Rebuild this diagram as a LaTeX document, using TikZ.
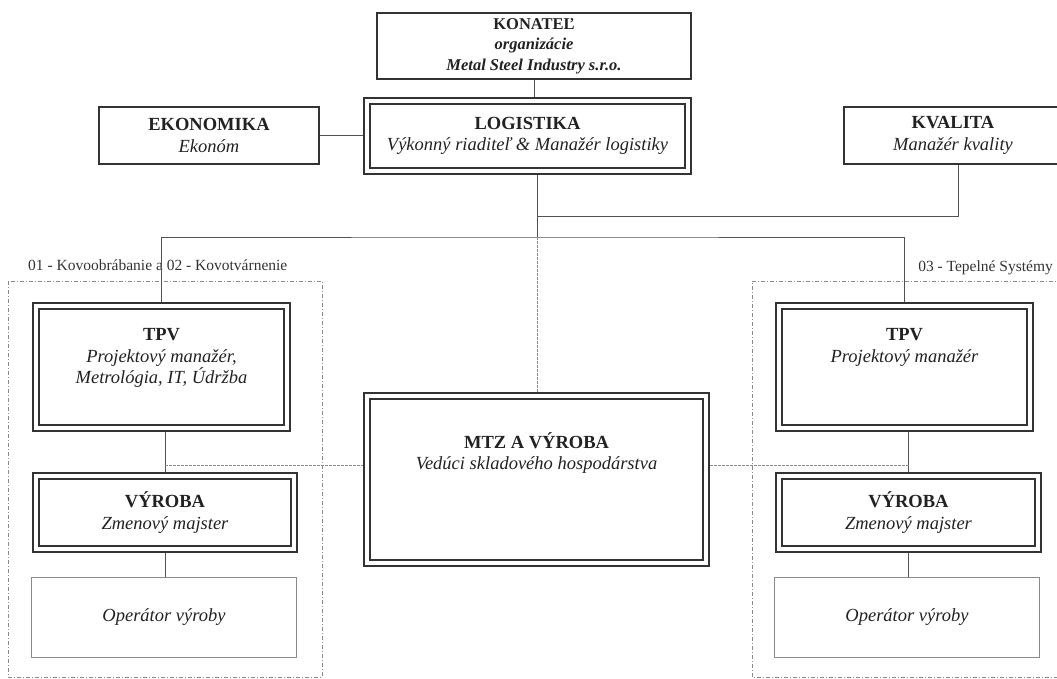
\documentclass[tikz,border=0pt]{standalone}
\usepackage{fontspec}
\setmainfont{Liberation Serif}
\definecolor{ln}{HTML}{333333}
\definecolor{tx}{HTML}{222222}
\definecolor{fr}{HTML}{8A8A8A}
\begin{document}
\begin{tikzpicture}[x=1pt,y=-1pt,
  every node/.style={inner sep=0pt, align=center, text=tx},
  bodyfont/.style={font=\fontsize{18.5}{21.5}\selectfont},
  sbox/.style={draw=ln, line width=2pt, fill=white, bodyfont},
  dbox/.style={draw=ln, line width=1.8pt, double=white, double distance=4.5pt, fill=white, outer sep=4.05pt, bodyfont},
  obox/.style={draw=fr, line width=1.2pt, fill=white, bodyfont},
  conn/.style={draw=ln!85, line width=0.9pt},
  dconn/.style={draw=fr, line width=0.8pt, dash pattern=on 2.5pt off 1.5pt},
  grp/.style={draw=fr, line width=0.8pt, dash pattern=on 4pt off 2pt on 1pt off 2pt},
  grplabel/.style={font=\fontsize{15.5}{18}\selectfont, text=ln}]
\useasboundingbox (0,0) rectangle (1057,679);

% group frames
\draw[grp] (8,281) rectangle (322,677);
\draw[grp] (1062,281) -- (752,281) -- (752,677) -- (1062,677);
\node[grplabel, anchor=base west] (g1) at (28,270) {01 - Kovoobrábanie a 02 - Kovotvárnenie};
\node[grplabel, anchor=base east] (g2) at (1053,271) {03 - Tepelné Systémy};

% top level
\node[sbox, minimum width=314, minimum height=66, font=\fontsize{16.5}{20.5}\selectfont\bfseries] (kon) at (534,46)
  {KONATEĽ\\ \textit{organizácie}\\ \textit{Metal Steel Industry s.r.o.}};
\node[dbox, minimum width=320.9, minimum height=69.9] (log) at (527.5,136)
  {\textbf{LOGISTIKA}\\ \textit{Výkonný riaditeľ \& Manažér logistiky}};
\node[sbox, minimum width=220, minimum height=57] (eko) at (209,135.5)
  {\textbf{EKONOMIKA}\\ \textit{Ekonóm}};
\node[sbox, minimum width=218, minimum height=57] (kva) at (953,135.5)
  {\textbf{KVALITA}\\ \textit{Manažér kvality}};

% left group
\node[dbox, minimum width=250.9, minimum height=121.9] (tpvL) at (161.5,367)
  {\textbf{TPV}\\ \textit{Projektový manažér,}\\ \textit{Metrológia, IT, Údržba}\\ \mbox{}};
\node[dbox, minimum width=257.9, minimum height=72.9] (vyrL) at (165,512.5)
  {\textbf{VÝROBA}\\ \textit{Zmenový majster}};
\node[obox, minimum width=264.8, minimum height=79.8] (opL) at (164,617.5)
  {\textit{Operátor výroby}};

% right group
\node[dbox, minimum width=250.9, minimum height=121.9] (tpvR) at (904.5,367)
  {\textbf{TPV}\\ \textit{Projektový manažér}\\ \mbox{}\\ \mbox{}};
\node[dbox, minimum width=258.9, minimum height=72.9] (vyrR) at (908.5,512.5)
  {\textbf{VÝROBA}\\ \textit{Zmenový majster}};
\node[obox, minimum width=264.8, minimum height=79.8] (opR) at (907,617.5)
  {\textit{Operátor výroby}};

% centre
\node[dbox, minimum width=338.9, minimum height=166.9] (mtz) at (536.5,479.5)
  {\textbf{MTZ A VÝROBA}\\ \textit{Vedúci skladového hospodárstva}\\[35pt] \mbox{}};

% connectors
\coordinate (jt) at (537,237);
\coordinate (jk) at (537,216);
\draw[conn] (kon.south) -- (kon.south |- log.north);
\draw[conn] (eko.east) -- (eko.east -| log.west);
\draw[conn] (jt |- log.south) -- (jt);
\draw[conn] (kva.south -| 958,0) |- (jk);
\draw[conn] (tpvL.north) |- (jt) -| (tpvR.north);
\draw[dconn] (jt) -- (jt |- mtz.north);
\draw[conn] (vyrL.north) -- (vyrL.north |- tpvL.south);
\draw[conn] (vyrL.south) -- (vyrL.south |- opL.north);
\draw[conn] (vyrR.north) -- (vyrR.north |- tpvR.south);
\draw[conn] (vyrR.south) -- (vyrR.south |- opR.north);
\coordinate (dl) at (165,465);
\coordinate (dr) at (908.5,465);
\draw[dconn] (dl) -- (dl -| mtz.west);
\draw[dconn] (dr) -- (dr -| mtz.east);
\end{tikzpicture}
\end{document}
